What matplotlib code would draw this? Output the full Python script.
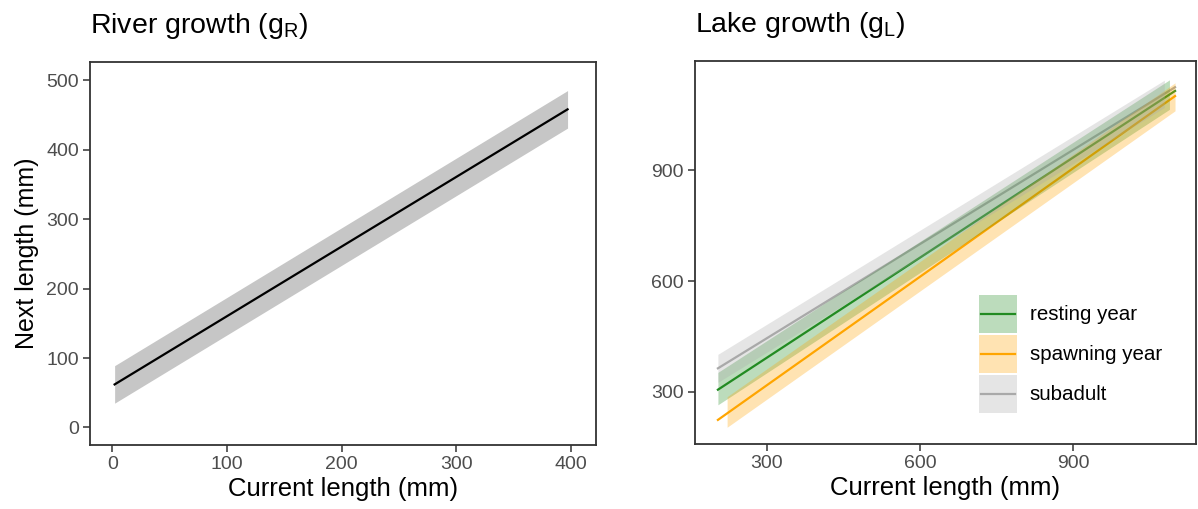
import numpy as np
import matplotlib.pyplot as plt
from matplotlib.patches import Rectangle
from matplotlib.lines import Line2D
from matplotlib.legend_handler import HandlerBase

plt.rcParams['font.family'] = ['Liberation Sans', 'DejaVu Sans']
plt.rcParams['mathtext.fontset'] = 'custom'
plt.rcParams['mathtext.rm'] = 'Liberation Sans'

# river growth: fitted line and ribbon end points
river_x = [2, 397]
river_fit = [62, 458]
river_lo = [35, 431]
river_hi = [89, 485]

# lake growth, one fit per life stage
groups = ['resting year', 'spawning year', 'subadult']
colors = ['forestgreen', 'orange', 'darkgrey']
line_x = {'resting year': [204, 1100], 'spawning year': [204, 1100], 'subadult': [204, 1100]}
line_y = {'resting year': [305, 1116], 'spawning year': [223, 1102], 'subadult': [363, 1126]}
band_x = {'resting year': [204, 1089], 'spawning year': [222, 1100], 'subadult': [204, 1079]}
band_lo = {'resting year': [264, 1066], 'spawning year': [203, 1062], 'subadult': [325, 1071]}
band_hi = {'resting year': [352, 1146], 'spawning year': [286, 1138], 'subadult': [401, 1145]}

river_ticks = [0, 100, 200, 300, 400]
river_yticks = [0, 100, 200, 300, 400, 500]
lake_ticks = [300, 600, 900]


class BandHandler(HandlerBase):
    # filled key with the fit line through its middle
    def create_artists(self, legend, orig, xdescent, ydescent, width, height, fontsize, trans):
        c = orig.get_color()
        rect = Rectangle((-xdescent, -ydescent), width, height, facecolor=c,
                         alpha=0.3, lw=0, transform=trans)
        yc = -ydescent + height / 2
        ln = Line2D([-xdescent + 0.05 * width, -xdescent + 0.95 * width], [yc, yc],
                    color=c, lw=1.6, transform=trans)
        return [rect, ln]


fig = plt.figure(figsize=(11.98, 5.09), dpi=100)
ax1 = fig.add_axes([0.0751, 0.126, 0.4224, 0.752])
ax2 = fig.add_axes([0.5801, 0.128, 0.4182, 0.752])

def style(ax):
    for s in ax.spines.values():
        s.set_color('#333333')
        s.set_linewidth(1.3)
    ax.tick_params(direction='out', length=5, width=1.1, color='#333333',
                   labelcolor='#4D4D4D', labelsize=14, pad=3)

# left panel
ax1.fill_between(river_x, river_lo, river_hi, color='#C6C6C6', lw=0)
ax1.plot(river_x, river_fit, color='black', lw=1.6)
ax1.set_xlim(-19.5, 421.8)
ax1.set_ylim(-25, 526)
ax1.set_xticks(river_ticks)
ax1.set_yticks(river_yticks)
ax1.set_xlabel('Current length (mm)', fontsize=18.5, labelpad=3)
ax1.set_ylabel('Next length (mm)', fontsize=18, labelpad=5)
ax1.set_title(r'River growth (g$_\mathrm{R}$)', loc='left', fontsize=20.5, pad=21)
style(ax1)

# right panel
fits = []
for g, c in zip(groups, colors):
    fits += ax2.plot(line_x[g], line_y[g], color=c, lw=1.6, zorder=2)
for g, c in zip(groups, colors):
    ax2.fill_between(band_x[g], band_lo[g], band_hi[g], color=c, alpha=0.3, lw=0, zorder=3)
ax2.set_xlim(159, 1141)
ax2.set_ylim(158, 1197)
ax2.set_xticks(lake_ticks)
ax2.set_yticks(lake_ticks)
ax2.set_xlabel('Current length (mm)', fontsize=18.5, labelpad=3)
ax2.set_title(r'Lake growth (g$_\mathrm{L}$)', loc='left', fontsize=20.5, pad=21)
style(ax2)

ax2.legend(fits, groups, handler_map={Line2D: BandHandler()},
           loc='upper left', bbox_to_anchor=(0.817, 0.421),
           bbox_transform=fig.transFigure, frameon=False, fontsize=14.8,
           handlelength=1.85, handleheight=2.46, labelspacing=0.1,
           handletextpad=0.63, borderpad=0, borderaxespad=0)

fig.savefig('out.png', dpi=100)
